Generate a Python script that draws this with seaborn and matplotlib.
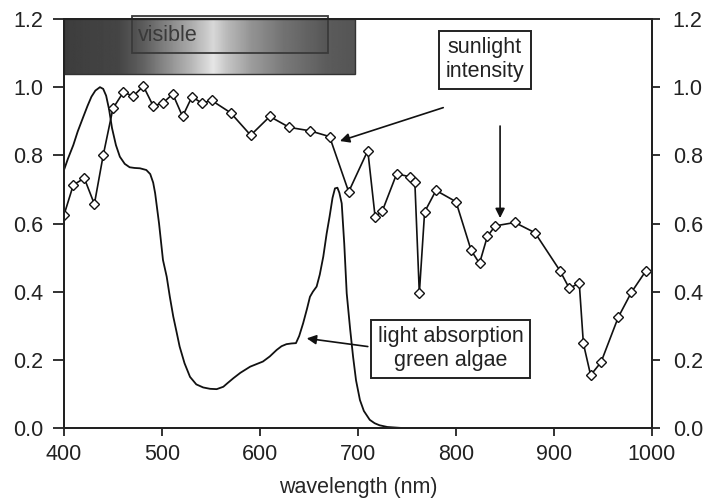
import numpy as np
import pandas as pd
import seaborn as sns
import matplotlib.pyplot as plt
from matplotlib.patches import Rectangle

# sunlight intensity (diamonds)
sun_wl = [400, 409.5, 420.7, 431, 440, 450, 460.5, 470.7, 481, 491, 500.7, 511, 521,
          530.6, 540.8, 550.7, 570, 590.5, 610, 630, 651, 671, 690.5, 710, 717.5, 725,
          739.5, 753, 758, 762.6, 768, 779.6, 800, 815.5, 824, 832, 840, 860, 880.6,
          906, 915.6, 925.8, 930, 937.4, 948, 965.6, 979, 994]
sun_val = [0.625, 0.713, 0.733, 0.657, 0.80, 0.938, 0.985, 0.974, 1.003, 0.945, 0.953,
           0.98, 0.914, 0.972, 0.953, 0.961, 0.925, 0.859, 0.914, 0.882, 0.872, 0.855,
           0.693, 0.814, 0.619, 0.638, 0.746, 0.737, 0.723, 0.395, 0.634, 0.697, 0.664,
           0.521, 0.483, 0.562, 0.593, 0.603, 0.573, 0.462, 0.41, 0.425, 0.248, 0.155,
           0.193, 0.325, 0.398, 0.462]

# light absorption of green algae (smooth line)
abs_wl = [400, 404, 409.5, 414, 419.7, 424, 428, 432, 436.7, 440, 443, 446, 449, 453, 457,
          462, 467, 472, 477.5, 484, 488, 491, 493, 497, 501, 504.8, 508, 511.5, 515, 518,
          523, 528.6, 535, 542, 549, 555.8, 562.6, 567, 572.8, 580, 590, 603, 610, 617,
          622, 627, 632, 636.7, 640, 644, 648, 651, 654, 657.8, 661, 664.6, 668, 671, 674,
          676.5, 679, 681, 683.4, 686, 688.5, 692, 695, 698, 702, 706, 712, 717, 722, 730, 745]
abs_val = [0.757, 0.79, 0.83, 0.87, 0.913, 0.945, 0.972, 0.99, 1.0, 0.995, 0.975, 0.935,
           0.88, 0.83, 0.796, 0.775, 0.765, 0.763, 0.762, 0.757, 0.745, 0.72, 0.689, 0.60,
           0.493, 0.444, 0.385, 0.327, 0.28, 0.239, 0.19, 0.15, 0.128, 0.119, 0.115, 0.114,
           0.121, 0.132, 0.146, 0.162, 0.18, 0.195, 0.21, 0.229, 0.24, 0.246, 0.248, 0.249,
           0.27, 0.307, 0.35, 0.385, 0.40, 0.415, 0.45, 0.503, 0.57, 0.62, 0.675, 0.703,
           0.705, 0.69, 0.659, 0.54, 0.395, 0.29, 0.209, 0.14, 0.082, 0.05, 0.024, 0.014,
           0.008, 0.003, 0.0]

yticks = [0.0, 0.2, 0.4, 0.6, 0.8, 1.0, 1.2]
xticks = [400, 500, 600, 700, 800, 900, 1000]

sns.set_style("ticks")
plt.rcParams['font.family'] = ['Liberation Sans', 'DejaVu Sans']
plt.rcParams['font.size'] = 15.5
plt.rcParams['text.color'] = '#222222'
plt.rcParams['xtick.color'] = '#222222'
plt.rcParams['ytick.color'] = '#222222'

fig = plt.figure(figsize=(7.04, 5.03), dpi=100)
ax = fig.add_axes([0.0909, 0.1491, 0.9261 - 0.0909, 0.9622 - 0.1491])

sun = pd.DataFrame({"wl": sun_wl, "val": sun_val})
alg = pd.DataFrame({"wl": abs_wl, "val": abs_val})

sns.lineplot(data=alg, x="wl", y="val", ax=ax, color="#111111", lw=1.3, sort=False)
sns.lineplot(data=sun, x="wl", y="val", ax=ax, color="#111111", lw=1.2, sort=False,
             marker="D", markersize=5, markerfacecolor="white",
             markeredgecolor="#111111", markeredgewidth=1.0)

# "visible" gradient bar
g_wl = np.linspace(400, 697, 300)
g_grey = np.interp(g_wl, [400, 455, 480, 500, 530, 552, 565, 590, 623, 668, 697],
                   [0.24, 0.27, 0.38, 0.52, 0.72, 0.9, 0.78, 0.62, 0.48, 0.36, 0.33])
ax.imshow(g_grey[np.newaxis, :], cmap="gray", vmin=0, vmax=1, aspect="auto",
          extent=[400, 697, 1.04, 1.2], zorder=1)
ax.add_patch(Rectangle((400, 1.04), 297, 0.16, fill=False, ec="#333333", lw=1.0, zorder=2))
ax.add_patch(Rectangle((469, 1.101), 200.5, 0.107, fc=(0, 0, 0, 0.06), ec="#3a3a3a",
                       lw=1.3, zorder=3, clip_on=False))
ax.text(475.5, 1.153, "visible", ha="left", va="center", color="#3a3a3a", zorder=4)

# annotations
arrow = dict(arrowstyle="-|>", color="#111111", lw=1.2, mutation_scale=14, shrinkA=0, shrinkB=0)
ax.text(829.6, 1.081, "sunlight\nintensity", ha="center", va="center", linespacing=1.2,
        bbox=dict(boxstyle="square,pad=0.3", fc="white", ec="#222222", lw=1.4))
ax.annotate("", xy=(681.6, 0.842), xytext=(787, 0.94), arrowprops=arrow)
ax.annotate("", xy=(845, 0.616), xytext=(845, 0.886), arrowprops=arrow)
ax.text(794.7, 0.2324, "light absorption\ngreen algae", ha="center", va="center",
        linespacing=1.2, bbox=dict(boxstyle="square,pad=0.3", fc="white", ec="#222222", lw=1.4))
ax.annotate("", xy=(647.7, 0.263), xytext=(710, 0.239), arrowprops=arrow)

ax.set_xlim(400, 1000)
ax.set_ylim(0, 1.2)
ax.set_xticks(xticks)
ax.set_yticks(yticks)
ax.set_yticklabels([f"{v:.1f}" for v in yticks])
ax.set_xlabel("wavelength (nm)", labelpad=9)
ax.set_ylabel("")

ax2 = ax.twinx()
ax2.set_ylim(0, 1.2)
ax2.set_yticks(yticks)
ax2.set_yticklabels([f"{v:.1f}" for v in yticks])

for a in (ax, ax2):
    for s in a.spines.values():
        s.set_visible(True)
        s.set_color("#222222")
        s.set_linewidth(1.4)
ax.tick_params(axis="y", length=8, width=1.3, pad=7)
ax.tick_params(axis="x", length=5.5, width=1.3, pad=6)
ax2.tick_params(axis="y", length=6, width=1.3, pad=9)

fig.savefig("out.png", dpi=100)
